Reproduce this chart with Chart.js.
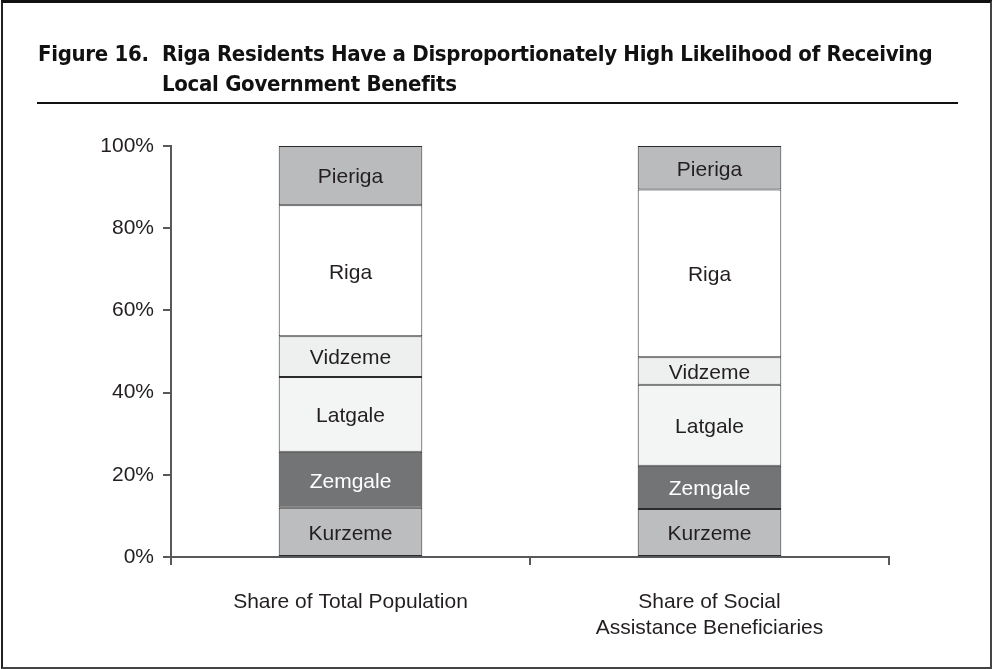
<!DOCTYPE html>
<html>
<head>
<meta charset="utf-8">
<script src="https://cdn.jsdelivr.net/npm/chart.js@4.4.1/dist/chart.umd.min.js"></script>
<style>
  html, body { margin: 0; padding: 0; background: #fff; }
  #page { position: relative; width: 992px; height: 669px; overflow: hidden; }
  #frame {
    position: absolute; left: 1px; top: 0; width: 991px; height: 669px;
    box-sizing: border-box;
    border-top: 3px solid #111; border-left: 2px solid #222;
    border-right: 2px solid #444; border-bottom: 2px solid #444;
  }
  .title {
    position: absolute; top: 39px;
    font-family: "DejaVu Sans Condensed", "Liberation Sans Narrow", sans-serif;
    font-weight: bold; font-size: 22px; line-height: 30px; color: #111;
    letter-spacing: -0.3px;
    white-space: nowrap;
  }
  #rule { position: absolute; left: 37px; top: 102px; width: 921px; height: 2px; background: #111; }
  canvas { position: absolute; left: 0; top: 0; }
</style>
</head>
<body>
<div id="page">
  <canvas id="chart" width="992" height="669"></canvas>
  <div id="frame"></div>
  <div class="title" style="left:38px">Figure 16.</div>
  <div class="title" style="left:162px">Riga Residents Have a Disproportionately High Likelihood of Receiving<br>Local Government Benefits</div>
  <div id="rule"></div>
</div>
<script>
// categories (bottom tick labels)
const categories = [
    'Share of Total Population',
    ['Share of Social', 'Assistance Beneficiaries']
];

// regions, stacked from the bottom up
const regions = ['Kurzeme', 'Zemgale', 'Latgale', 'Vidzeme', 'Riga', 'Pieriga'];

// shares in percent
const kurzeme = [12.0, 11.7];
const zemgale = [13.6, 10.5];
const latgale = [18.2, 19.7];
const vidzeme = [9.9, 6.7];
const riga    = [31.9, 40.8];
const pieriga = [14.4, 10.6];

const yTicks = [0, 20, 40, 60, 80, 100];

const seriesValues = [kurzeme, zemgale, latgale, vidzeme, riga, pieriga];
const fillColors   = ['#bcbdbf', '#737476', '#f3f4f4', '#eeefef', '#ffffff', '#babbbd'];
const labelColors  = ['#231f20', '#ffffff', '#231f20', '#231f20', '#231f20', '#231f20'];

const AXIS = '#58595b';
const FONT = '"Liberation Sans", Arial, sans-serif';

// writes the region name in the middle of each segment
const segmentLabels = {
    id: 'segmentLabels',
    afterDatasetsDraw(chart) {
        const ctx = chart.ctx;
        ctx.save();
        ctx.font = '21px ' + FONT;
        ctx.textAlign = 'center';
        ctx.textBaseline = 'middle';
        chart.data.datasets.forEach((ds, i) => {
            chart.getDatasetMeta(i).data.forEach(bar => {
                ctx.fillStyle = labelColors[i];
                ctx.fillText(ds.label, bar.x, (bar.y + bar.base) / 2 + 2);
            });
        });
        ctx.restore();
    }
};

new Chart(document.getElementById('chart'), {
    type: 'bar',
    data: {
        labels: categories,
        datasets: regions.map((name, i) => ({
            label: name,
            data: seriesValues[i],
            backgroundColor: fillColors[i],
            borderColor: '#2b2b2d',
            borderWidth: 1,
            borderSkipped: false,
            categoryPercentage: 1,
            barPercentage: 0.4
        }))
    },
    options: {
        responsive: false,
        animation: false,
        layout: { padding: { top: 146, right: 103, left: 0, bottom: 0 } },
        plugins: {
            legend: { display: false },
            title: { display: false },
            tooltip: { enabled: false }
        },
        scales: {
            x: {
                stacked: true,
                offset: true,
                grid: {
                    offset: true,
                    drawOnChartArea: false,
                    tickLength: 8,
                    color: AXIS,
                    lineWidth: 2
                },
                border: { display: true, color: AXIS, width: 2 },
                ticks: {
                    color: '#231f20',
                    padding: 25,
                    maxRotation: 0,
                    font: { family: FONT, size: 21, lineHeight: 1.2 }
                },
                afterFit(scale) { scale.height = 112; }
            },
            y: {
                stacked: true,
                min: 0,
                max: 100,
                afterBuildTicks(scale) { scale.ticks = yTicks.map(v => ({ value: v })); },
                grid: {
                    drawOnChartArea: false,
                    tickLength: 8,
                    color: AXIS,
                    lineWidth: 2
                },
                border: { display: true, color: AXIS, width: 2 },
                ticks: {
                    color: '#231f20',
                    padding: 9,
                    font: { family: FONT, size: 21 },
                    callback: v => v + '%'
                },
                afterFit(scale) { scale.width = 171; }
            }
        }
    },
    plugins: [segmentLabels]
});
</script>
</body>
</html>
